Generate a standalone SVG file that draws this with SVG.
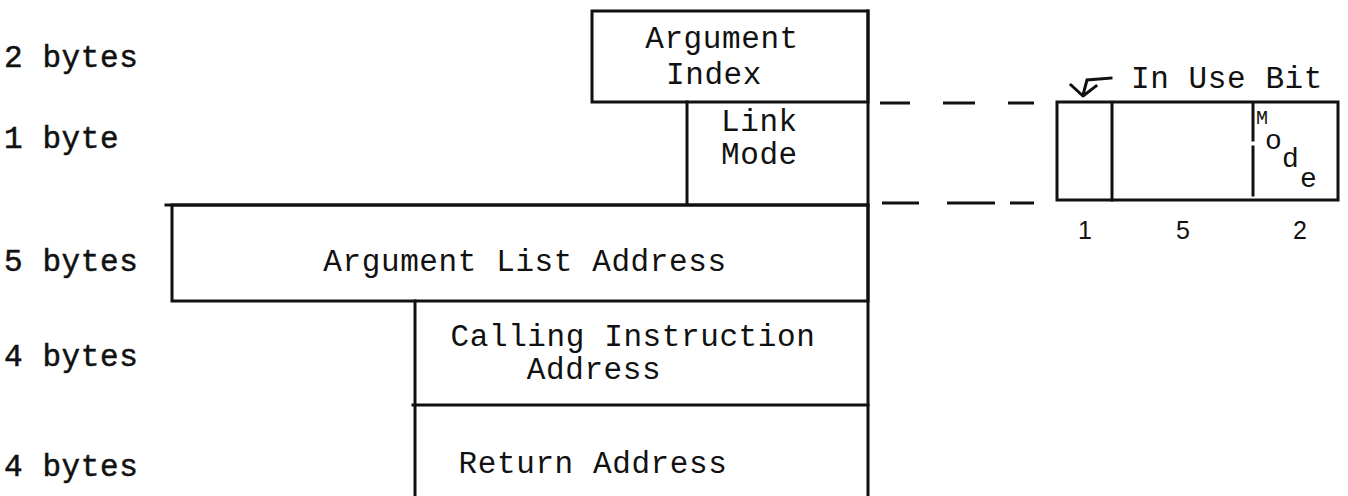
<svg xmlns="http://www.w3.org/2000/svg" width="1348" height="496" viewBox="0 0 1348 496">
  <style>
    .bg { fill: #ffffff; }
    .ln { stroke: #111111; stroke-width: 3; fill: none; stroke-linecap: square; }
    .dash { stroke: #111111; stroke-width: 3; fill: none; }
    .tw { font-family: "Liberation Mono", "DejaVu Sans Mono", monospace; font-size: 31px; letter-spacing: 0.6px; fill: #111111; }
    .sz { font-family: "Liberation Mono", "DejaVu Sans Mono", monospace; font-size: 31px; letter-spacing: 0.6px; fill: #111111; stroke: #111111; stroke-width: 0.5px; }
    .num { font-family: "Liberation Sans", Arial, sans-serif; font-size: 25px; fill: #111111; text-anchor: middle; }
    .mid { text-anchor: middle; }
    .md { font-family: "Liberation Mono", "DejaVu Sans Mono", monospace; fill: #111111; }
  </style>
  <rect class="bg" x="0" y="0" width="1348" height="496"/>

  <!-- field sizes down the left margin -->
  <g id="sizes">
    <text class="sz" x="4" y="67">2 bytes</text>
    <text class="sz" x="4" y="148">1 byte</text>
    <text class="sz" x="4" y="271">5 bytes</text>
    <text class="sz" x="4" y="366">4 bytes</text>
    <text class="sz" x="4" y="476">4 bytes</text>
  </g>

  <!-- spine on the right edge of the block -->
  <g id="spine">
    <line class="ln" x1="868" y1="11" x2="868" y2="496"/>
  </g>

  <g id="argument-index">
    <rect class="ln" x="592" y="11" width="276" height="91"/>
    <text class="tw mid" x="722" y="48">Argument</text>
    <text class="tw mid" x="714" y="84">Index</text>
  </g>

  <g id="link-mode">
    <line class="ln" x1="687" y1="102" x2="687" y2="204"/>
    <text class="tw" x="721" y="131">Link</text>
    <text class="tw" x="721" y="164">Mode</text>
  </g>

  <g id="argument-list-address">
    <line class="ln" x1="166" y1="205" x2="868" y2="205"/>
    <rect class="ln" x="172" y="205" width="696" height="96"/>
    <text class="tw mid" x="525" y="271">Argument List Address</text>
  </g>

  <g id="calling-instruction-address">
    <line class="ln" x1="415" y1="301" x2="415" y2="496"/>
    <line class="ln" x1="413" y1="405" x2="868" y2="405"/>
    <text class="tw mid" x="633" y="346">Calling Instruction</text>
    <text class="tw mid" x="594" y="379">Address</text>
  </g>

  <g id="return-address">
    <text class="tw mid" x="593" y="473">Return Address</text>
  </g>

  <!-- expanded link mode byte: "Mode" set on a diagonal -->
  <g id="mode-byte">
    <rect class="ln" x="1057" y="102" width="281" height="98"/>
    <line class="ln" x1="1112" y1="103" x2="1112" y2="200"/>
    <line class="ln" x1="1253" y1="103" x2="1253" y2="140"/>
    <line class="ln" x1="1253" y1="147" x2="1253" y2="195"/>
    <text class="md" x="1256" y="124" font-size="20">M</text>
    <text class="md" x="1265" y="149" font-size="28">o</text>
    <text class="md" x="1282" y="167" font-size="28">d</text>
    <text class="md" x="1300" y="187" font-size="28">e</text>
    <text class="num" x="1085" y="239">1</text>
    <text class="num" x="1183" y="239">5</text>
    <text class="num" x="1300" y="239">2</text>
  </g>

  <g id="in-use-bit">
    <text class="tw" x="1131" y="88">In Use Bit</text>
  </g>

  <g id="connectors">
    <path class="dash" d="M880 103 H910 M943 103 H975 M1008 103 H1034"/>
    <path class="dash" d="M882 203 H919 M947 203 H995 M1010 203 H1034"/>
    <path class="ln" d="M1111 78 L1087 80 L1083 95" stroke-linecap="round"/>
    <path class="ln" d="M1071 85 L1083 96 L1096 86" stroke-linecap="round" stroke-linejoin="round"/>
  </g>
</svg>
